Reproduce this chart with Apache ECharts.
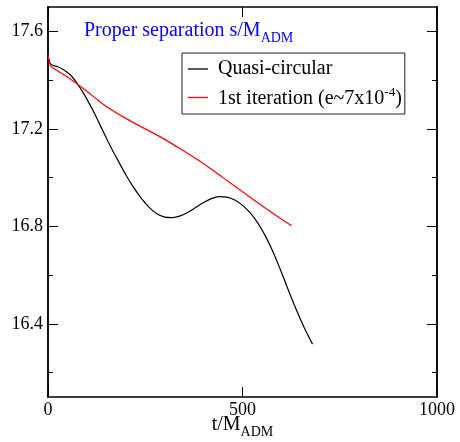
<!DOCTYPE html>
<html lang="en">
<head>
    <meta charset="UTF-8">
    <title>Proper separation</title>
    <style>
      * { padding: 0; margin: 0; }
      body { background: #fff; }
    </style>
</head>
<body>
    <div id="main" style="width: 460px;height:442px;"></div>
    <script src="https://cdn.jsdelivr.net/npm/echarts@6/dist/echarts.min.js"></script>
    <script>
    // data: [t/M_ADM, s/M_ADM]
    var quasiCircular = [
        [0, 17.505], [4, 17.475], [10, 17.462], [25, 17.455], [40, 17.443], [55, 17.425],
        [70, 17.398], [85, 17.362], [100, 17.322], [120, 17.262], [140, 17.195], [160, 17.13],
        [180, 17.07], [200, 17.012], [220, 16.96], [240, 16.915], [260, 16.878], [280, 16.852],
        [300, 16.838], [320, 16.836], [340, 16.843], [360, 16.858], [380, 16.878], [400, 16.898],
        [420, 16.914], [440, 16.922], [460, 16.92], [480, 16.908], [500, 16.886], [520, 16.855],
        [540, 16.812], [560, 16.757], [580, 16.69], [600, 16.612], [620, 16.53], [640, 16.452],
        [660, 16.38], [680, 16.317]
    ];
    var firstIteration = [
        [0, 17.505], [3, 17.475], [8, 17.455], [20, 17.443], [40, 17.423], [60, 17.402],
        [80, 17.378], [100, 17.354], [125, 17.322], [150, 17.292], [200, 17.243], [250, 17.2],
        [300, 17.157], [350, 17.108], [400, 17.057], [450, 17.0], [500, 16.942], [550, 16.885],
        [600, 16.83], [626, 16.803]
    ];
    var yMajor = [16.4, 16.8, 17.2, 17.6];
    var yMinor = [16.2, 16.6, 17.0, 17.4];

    var serif = 'Liberation Serif, Times New Roman, serif';
    var frame = { show: true, lineStyle: { color: '#000', width: 1.5 } };

    function yAx(pos, ticks, len, labels) {
        return {
            type: 'value', position: pos, min: 16.1, max: 17.7,
            axisLine: frame, splitLine: { show: false },
            axisTick: { show: true, inside: true, length: len, customValues: ticks,
                        lineStyle: { color: '#000', width: 1 } },
            axisLabel: labels ? { show: true, customValues: yMajor, margin: 5,
                        fontFamily: serif, fontSize: 18, color: '#000' } : { show: false }
        };
    }

    var option = {
        animation: false,
        backgroundColor: '#fff',
        title: {
            text: '{m|Proper separation s/M}{s|ADM}',
            left: 84, top: 21, padding: 0,
            textStyle: {
                rich: {
                    m: { fontFamily: serif, fontSize: 20, fontWeight: 'normal', color: '#0000ff', lineHeight: 22, verticalAlign: 'top' },
                    s: { fontFamily: serif, fontSize: 14, fontWeight: 'normal', color: '#0000ff', lineHeight: 15, padding: [12, 0, 0, 0] }
                }
            }
        },
        legend: {
            orient: 'vertical', left: 182, top: 53,
            padding: [6, 3, 5, 6], itemGap: 7,
            itemWidth: 20, itemHeight: 1.3, icon: 'rect',
            borderColor: '#222', borderWidth: 1,
            data: ['Quasi-circular', '1st iteration'],
            formatter: function (name) {
                if (name === 'Quasi-circular') return '{t|Quasi-circular}';
                return '{b|1st iteration (e~7x10}{p|-4}{c|)}';
            },
            textStyle: {
                rich: {
                    t: { fontFamily: serif, fontSize: 20, color: '#000', lineHeight: 24, padding: [0, 0, 0, 5] },
                    b: { fontFamily: serif, fontSize: 20, color: '#000', lineHeight: 22, verticalAlign: 'bottom', padding: [0, 0, 0, 5] },
                    c: { fontFamily: serif, fontSize: 20, color: '#000', lineHeight: 22, verticalAlign: 'bottom' },
                    p: { fontFamily: serif, fontSize: 13, color: '#000', lineHeight: 14, padding: [0, 0, 10, 0] }
                }
            }
        },
        grid: { left: 48, right: 23, top: 7, bottom: 45, outerBoundsMode: 'none' },
        xAxis: [
            {
                type: 'value', position: 'bottom', min: 0, max: 1000, interval: 500,
                axisLine: frame, splitLine: { show: false },
                axisTick: { show: true, inside: true, length: 10, lineStyle: { color: '#000', width: 1 } },
                axisLabel: { margin: 4, fontFamily: serif, fontSize: 18, color: '#000',
                             formatter: function (v) { return String(v); } },
                name: '{m|t/M}{s|ADM}', nameLocation: 'middle', nameGap: 18, nameMoveOverlap: false,
                nameTextStyle: {
                    rich: {
                        m: { fontFamily: serif, fontSize: 20, color: '#000', lineHeight: 22, verticalAlign: 'top' },
                        s: { fontFamily: serif, fontSize: 14, color: '#000', lineHeight: 15, padding: [12, 0, 0, 0] }
                    }
                }
            },
            {
                type: 'value', position: 'top', min: 0, max: 1000, interval: 500,
                axisLine: frame, splitLine: { show: false },
                axisTick: { show: true, inside: true, length: 10, lineStyle: { color: '#000', width: 1 } },
                axisLabel: { show: false }
            }
        ],
        yAxis: [
            yAx('left', yMajor, 10, true),
            yAx('left', yMinor, 5, false),
            yAx('right', yMajor, 10, false),
            yAx('right', yMinor, 5, false)
        ],
        series: [
            {
                name: 'Quasi-circular', type: 'line', data: quasiCircular,
                symbol: 'none', smooth: 0.3,
                lineStyle: { color: '#000', width: 1.2 }, itemStyle: { color: '#000' }
            },
            {
                name: '1st iteration', type: 'line', data: firstIteration,
                symbol: 'none', smooth: 0.3,
                lineStyle: { color: '#ff0000', width: 1.2 }, itemStyle: { color: '#ff0000' }
            }
        ]
    };

    var myChart = echarts.init(document.getElementById('main'));
    myChart.setOption(option);
    </script>
</body>
</html>
